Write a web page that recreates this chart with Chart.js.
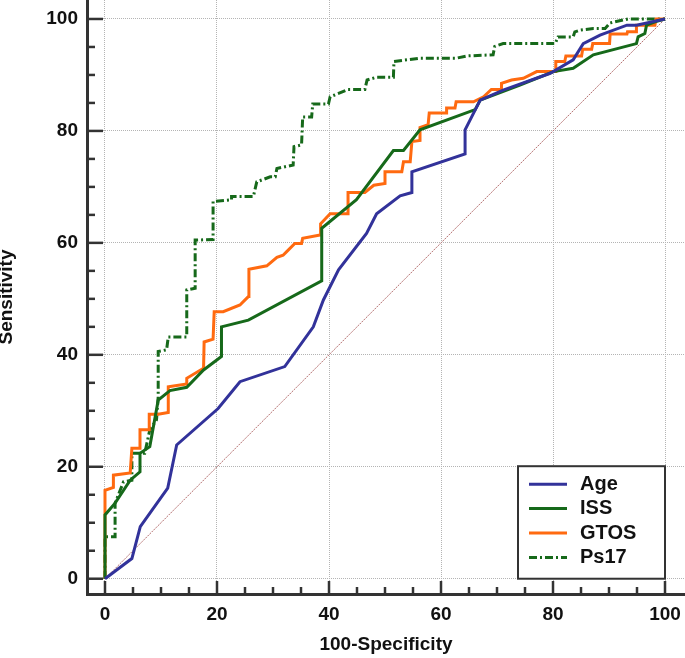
<!DOCTYPE html>
<html>
<head>
<meta charset="utf-8">
<script src="https://cdn.jsdelivr.net/npm/chart.js@4.4.0/dist/chart.umd.min.js"></script>
<style>
  html, body { margin: 0; padding: 0; background: #fff; }
  #wrap { width: 685px; height: 658px; }
</style>
</head>
<body>
<div id="wrap"><canvas id="rocChart"></canvas></div>
<script>
// tick values on both axes
var tickValues = [0, 20, 40, 60, 80, 100];
var minorStep = 5;

// Age
var ageX = [0, 4.8, 6.3, 11.2, 12.8, 20.2, 24.1, 32.1, 37.2, 39.0, 41.7, 46.7, 48.5, 52.7, 54.8, 54.8, 64.3, 64.3, 67.0, 71.1, 79.5, 83.6, 85.4, 88.4, 93.2, 94.9, 100];
var ageY = [0, 3.6, 9.3, 16.2, 23.9, 30.4, 35.2, 37.9, 45.0, 49.8, 55.2, 61.7, 65.2, 68.4, 69.0, 72.7, 75.9, 80.2, 85.5, 87.3, 90.3, 92.7, 95.6, 97.1, 98.9, 98.9, 100];

// ISS
var issX = [0, 0, 1.8, 4.5, 6.25, 6.25, 8.0, 9.5, 11.6, 14.6, 17.6, 20.8, 20.8, 25.6, 38.7, 38.7, 44.9, 51.5, 53.3, 56.25, 66.1, 67.0, 74.1, 80.1, 83.6, 87.2, 94.9, 95.2, 96.4, 96.7, 98.2, 100];
var issY = [0, 11.4, 13.5, 17.6, 19.1, 22.4, 23.6, 31.9, 33.6, 34.2, 37.3, 39.7, 45.0, 46.2, 53.2, 62.6, 67.7, 76.5, 76.5, 80.2, 83.8, 85.5, 88.2, 90.6, 91.2, 93.6, 95.6, 96.8, 97.4, 98.9, 99.5, 100];

// GTOS
var gtosX = [0, 0, 1.5, 1.5, 4.5, 4.8, 6.25, 6.25, 7.9, 7.9, 9.5, 11.3, 11.3, 14.6, 14.6, 17.6, 17.7, 19.3, 19.5, 21.1, 24.1, 25.6, 25.7, 28.9, 30.7, 31.8, 32.4, 33.9, 35.1, 35.3, 38.4, 38.5, 40.2, 43.4, 43.4, 46.4, 48.0, 50.0, 50.0, 53.0, 53.3, 54.5, 54.8, 56.25, 56.25, 57.7, 57.9, 61.0, 61.0, 62.5, 62.7, 65.8, 67.6, 69.0, 70.8, 70.8, 72.6, 74.7, 77.1, 80.4, 80.5, 82.1, 82.3, 85.1, 85.3, 86.9, 87.1, 90.1, 90.2, 93.2, 93.3, 94.9, 94.9, 98.2, 98.4, 100];
var gtosY = [0, 15.8, 16.3, 18.5, 18.9, 23.3, 23.3, 26.6, 26.6, 29.4, 29.4, 29.7, 34.3, 34.8, 35.8, 37.6, 42.3, 42.8, 47.7, 47.7, 48.9, 50.4, 55.3, 55.9, 57.4, 57.8, 58.4, 59.9, 59.9, 60.8, 61.4, 63.4, 65.2, 65.2, 69.0, 69.0, 70.3, 70.6, 72.7, 72.7, 74.5, 74.5, 78.1, 78.3, 80.6, 81.1, 83.2, 83.2, 84.1, 84.1, 85.2, 85.2, 86.1, 87.4, 87.4, 88.5, 89.1, 89.4, 90.6, 90.6, 92.4, 92.4, 93.4, 93.4, 94.6, 94.6, 95.6, 95.6, 97.3, 97.3, 97.7, 97.7, 98.9, 98.9, 100, 100];

// Ps17
var ps17X = [0, 0, 1.8, 1.8, 3.3, 4.8, 4.8, 7.1, 8.0, 9.2, 9.5, 9.5, 11.0, 11.3, 14.6, 14.6, 16.1, 16.1, 19.3, 19.3, 22.6, 22.6, 26.5, 27.1, 29.5, 30.4, 30.7, 33.6, 33.75, 35.1, 35.3, 36.9, 37.1, 39.9, 40.2, 41.7, 43.4, 46.4, 46.8, 48.5, 51.5, 51.6, 56.25, 62.8, 64.6, 69.3, 69.6, 71.1, 80.4, 80.9, 83.6, 83.9, 84.8, 87.2, 89.3, 90.2, 93.4, 100];
var ps17Y = [0, 7.5, 7.5, 13.5, 17.3, 17.6, 22.4, 22.4, 26.6, 28.4, 32.5, 40.6, 40.9, 43.2, 43.2, 51.6, 51.9, 60.5, 60.6, 67.4, 67.7, 68.3, 68.3, 70.9, 71.8, 71.8, 73.3, 73.9, 77.2, 77.5, 82.5, 82.5, 84.8, 84.8, 86.1, 86.7, 87.4, 87.4, 89.1, 89.6, 89.6, 92.4, 93.0, 93.0, 93.4, 93.6, 95.1, 95.6, 95.6, 96.8, 96.8, 97.7, 98.0, 98.3, 98.3, 99.3, 100, 100];

// reference diagonal
var refX = [0, 100];
var refY = [0, 100];

function toPoints(xs, ys) {
  return xs.map(function (x, i) { return { x: x, y: ys[i] }; });
}

// plot area edges are a bit beyond 0..100, like the original
var xMin = -3.214, xMax = 103.571;
var yMin = -2.73, yMax = 103.39;

Chart.defaults.font.family = '"Liberation Sans", Arial, sans-serif';
Chart.defaults.color = '#111';

// inward tick marks (major every 20, minor every 5)
var innerTicks = {
  id: 'innerTicks',
  afterDraw: function (chart) {
    var ctx = chart.ctx, xs = chart.scales.x, ys = chart.scales.y, area = chart.chartArea;
    ctx.save();
    ctx.strokeStyle = '#333';
    ctx.lineWidth = 2.5;
    for (var v = 0; v <= 100; v += minorStep) {
      var major = v % 20 === 0;
      var px = xs.getPixelForValue(v);
      ctx.beginPath();
      ctx.moveTo(px, area.bottom);
      ctx.lineTo(px, area.bottom - (major ? 13 : 7));
      ctx.stroke();
      var py = ys.getPixelForValue(v);
      ctx.beginPath();
      ctx.moveTo(area.left, py);
      ctx.lineTo(area.left + (major ? 16 : 8), py);
      ctx.stroke();
    }
    ctx.restore();
  }
};

// boxed legend in lower right corner
var boxLegend = {
  id: 'boxLegend',
  afterDatasetsDraw: function (chart) {
    var ctx = chart.ctx, xs = chart.scales.x, ys = chart.scales.y;
    var left = xs.getPixelForValue(73.75), right = xs.getPixelForValue(100);
    var top = ys.getPixelForValue(20.1), bottom = ys.getPixelForValue(0);
    ctx.save();
    ctx.fillStyle = '#fff';
    ctx.fillRect(left, top, right - left, bottom - top);
    ctx.strokeStyle = '#333';
    ctx.lineWidth = 2;
    ctx.strokeRect(left, top, right - left, bottom - top);
    ctx.font = 'bold 20px "Liberation Sans", Arial, sans-serif';
    ctx.textBaseline = 'middle';
    var rows = chart.data.datasets.filter(function (d) { return d.label; });
    rows.forEach(function (ds, i) {
      var y = top + 18 + i * 24.4;
      ctx.strokeStyle = ds.borderColor;
      ctx.lineWidth = 3;
      ctx.setLineDash(ds.borderDash || []);
      ctx.beginPath();
      ctx.moveTo(left + 11, y);
      ctx.lineTo(left + 49, y);
      ctx.stroke();
      ctx.setLineDash([]);
      ctx.fillStyle = '#111';
      ctx.fillText(ds.label, left + 62, y);
    });
    ctx.restore();
  }
};

function fixedTicks(scale) {
  scale.ticks = tickValues.map(function (v) { return { value: v }; });
}

var ctx = document.getElementById('rocChart');
new Chart(ctx, {
  type: 'line',
  data: {
    datasets: [{
      label: 'Age',
      data: toPoints(ageX, ageY),
      borderColor: '#32329a',
      borderWidth: 3
    }, {
      label: 'ISS',
      data: toPoints(issX, issY),
      borderColor: '#16691a',
      borderWidth: 3
    }, {
      label: 'GTOS',
      data: toPoints(gtosX, gtosY),
      borderColor: '#ff6a10',
      borderWidth: 3
    }, {
      label: 'Ps17',
      data: toPoints(ps17X, ps17Y),
      borderColor: '#16691a',
      borderWidth: 3,
      borderDash: [8, 3, 2, 3]
    }, {
      label: '',
      data: toPoints(refX, refY),
      borderColor: '#b36e6e',
      borderWidth: 1,
      borderDash: [2, 1]
    }]
  },
  options: {
    responsive: true,
    maintainAspectRatio: false,
    animation: false,
    layout: { padding: 0 },
    elements: {
      line: { tension: 0, fill: false },
      point: { radius: 0, hoverRadius: 0 }
    },
    plugins: {
      legend: { display: false },
      tooltip: { enabled: false }
    },
    scales: {
      x: {
        type: 'linear',
        min: xMin,
        max: xMax,
        afterBuildTicks: fixedTicks,
        afterFit: function (s) {
          s.height = 64;
          s.paddingLeft = 0;
          s.paddingRight = 0;
        },
        grid: { color: '#b4b4b4', lineWidth: 1, drawTicks: false },
        border: { display: true, color: '#333', width: 3, dash: [1, 1] },
        ticks: { padding: 9, font: { size: 19, weight: 'bold' }, color: '#111', maxRotation: 0, autoSkip: false },
        title: { display: true, text: '100-Specificity', color: '#111',
          font: { size: 19, weight: 'bold', lineHeight: 1 }, padding: { top: 0, bottom: 4 } }
      },
      y: {
        type: 'linear',
        min: yMin,
        max: yMax,
        afterBuildTicks: fixedTicks,
        afterFit: function (s) {
          s.width = 87;
          s.paddingTop = 0;
          s.paddingBottom = 0;
        },
        grid: { color: '#b4b4b4', lineWidth: 1, drawTicks: false },
        border: { display: true, color: '#333', width: 3, dash: [1, 1] },
        ticks: { padding: 9, font: { size: 19, weight: 'bold' }, color: '#111', autoSkip: false },
        title: { display: true, text: 'Sensitivity', color: '#111',
          font: { size: 19, weight: 'bold', lineHeight: 0.7 }, padding: 0 }
      }
    }
  },
  plugins: [innerTicks, boxLegend]
});
</script>
</body>
</html>
